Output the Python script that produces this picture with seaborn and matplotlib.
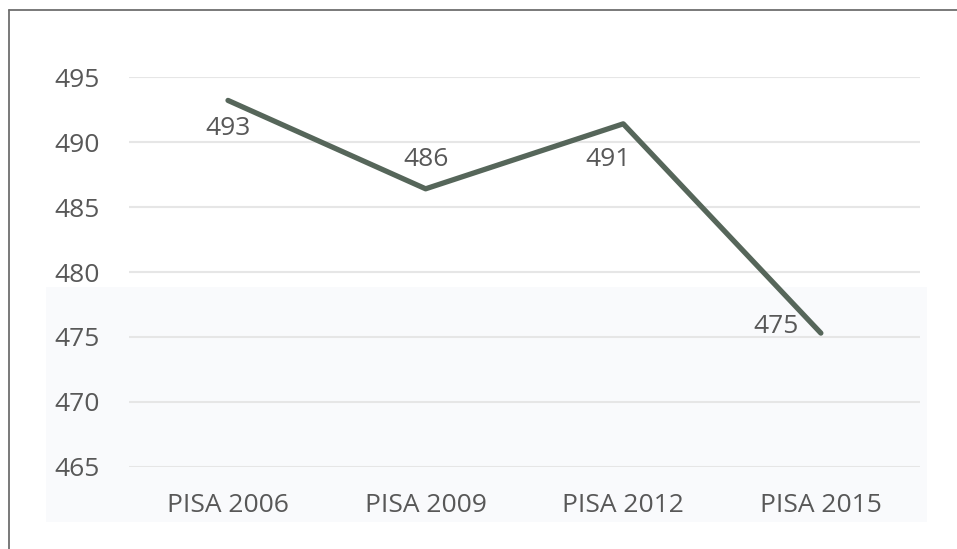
import matplotlib
matplotlib.use("Agg")
import matplotlib.pyplot as plt
import seaborn as sns
import pandas as pd
from matplotlib.lines import Line2D
from matplotlib.patches import Rectangle

# data
categories = ["PISA 2006", "PISA 2009", "PISA 2012", "PISA 2015"]
scores = [493.2, 486.4, 491.4, 475.3]
labels = ["493", "486", "491", "475"]
yticks = [465, 470, 475, 480, 485, 490, 495]

# label offsets in points (dx, dy)
offsets = [(0, -20), (0, 21), (-11, -26), (-32, 5)]

sns.set_theme(style="white")
plt.rcParams["font.family"] = ["Open Sans", "DejaVu Sans"]

text_col = "#585858"
line_col = "#56665a"

df = pd.DataFrame({"cat": categories, "score": scores})

fig = plt.figure(figsize=(9.57, 5.49), dpi=100)
ax = fig.add_axes([0.135, 0.1494, 0.826, 0.7103])
ax.set_facecolor("none")

# faint tinted band of the scan
fig.patches.append(Rectangle((0.048, 0.049), 0.921, 0.428, transform=fig.transFigure,
                             facecolor="#f9fafc", edgecolor="none", zorder=-5))
# frame on top and left
fig.add_artist(Line2D([0.0095, 1.0], [0.982, 0.982], color="#6e6e6e", lw=1.3))
fig.add_artist(Line2D([0.0095, 0.0095], [0.0, 0.982], color="#6e6e6e", lw=1.3))

sns.lineplot(data=df, x="cat", y="score", ax=ax, color=line_col, lw=3.8,
             sort=False, solid_capstyle="round", zorder=3)

for i, (v, lab) in enumerate(zip(scores, labels)):
    ax.annotate(lab, (i, v), xytext=offsets[i], textcoords="offset points",
                ha="center", va="center", fontsize=19, color=text_col, zorder=4)

ax.set_xlim(-0.5, 3.5)
ax.set_ylim(465, 495)
ax.set_yticks(yticks)
ax.yaxis.grid(True, color="#e6e6e6", lw=1.5)
ax.set_axisbelow(True)
for s in ax.spines.values():
    s.set_visible(False)
ax.tick_params(axis="y", length=0, pad=21, labelsize=19, labelcolor=text_col)
ax.tick_params(axis="x", length=0, pad=19, labelsize=19, labelcolor=text_col)
ax.set_xlabel("")
ax.set_ylabel("")

fig.savefig("out.png", dpi=100)
